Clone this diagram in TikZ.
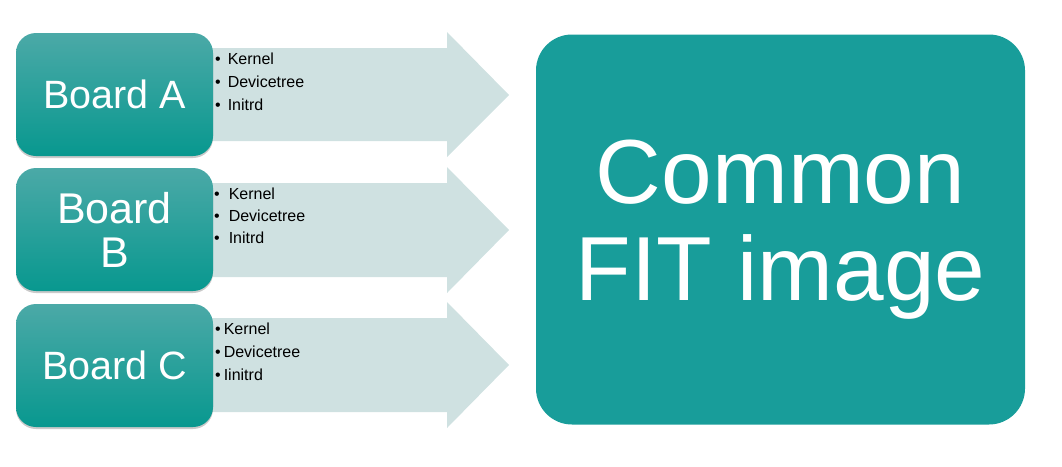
\documentclass[tikz,border=0pt]{standalone}
\usepackage{fontspec}
\setmainfont{Liberation Sans}
\usetikzlibrary{shadows}
\definecolor{boxtop}{HTML}{4BA9A7}
\definecolor{boxbot}{HTML}{08988F}
\definecolor{bigbox}{HTML}{189D9A}
\definecolor{arrowfill}{HTML}{CFE1E1}
\tikzset{
  board/.style={rounded corners=20pt, top color=boxtop, bottom color=boxbot,
    minimum width=197pt, minimum height=123pt, text=white, align=center,
    font=\fontsize{39.5}{44}\selectfont, inner sep=0pt,
    drop shadow={shadow xshift=0pt, shadow yshift=-2pt, opacity=0.35, fill=black!60}},
  barrow/.style={fill=arrowfill, draw=none},
  bullet/.style={anchor=base west, font=\fontsize{16}{18}\selectfont, inner sep=0pt},
  big/.style={rounded corners=36pt, fill=bigbox, text=white, align=center,
    font=\fontsize{91}{97}\selectfont, inner sep=0pt}
}
\begin{document}
\begin{tikzpicture}[x=1pt,y=-1pt]
\useasboundingbox (0,0) rectangle (1062,466);
% arrows
\fill[arrowfill] (205,48) -- (447,48) -- (447,32) -- (509,95) -- (447,157) -- (447,141) -- (205,141) -- cycle;
\fill[arrowfill] (205,183) -- (447,183) -- (447,167) -- (509,230) -- (447,293) -- (447,277) -- (205,277) -- cycle;
\fill[arrowfill] (205,318) -- (447,318) -- (447,302) -- (509,365) -- (447,428) -- (447,412) -- (205,412) -- cycle;
% boards
\node[board] (A) at (114.5,94.5) {Board A};
\node[board, font=\fontsize{43}{44}\selectfont] (B) at (114.5,229.5) {Board\\B};
\node[board] (C) at (114.5,365.5) {Board C};
% bullets
\node[bullet] (a1) at (215,64) {\textbullet\hspace{7pt}Kernel};
\node[bullet] (a2) at (215,87) {\textbullet\hspace{7pt}Devicetree};
\node[bullet] (a3) at (215,110) {\textbullet\hspace{7pt}Initrd};
\node[bullet] (b1) at (214,199) {\textbullet\hspace{9pt}Kernel};
\node[bullet] (b2) at (214,221) {\textbullet\hspace{9pt}Devicetree};
\node[bullet] (b3) at (214,243) {\textbullet\hspace{9pt}Initrd};
\node[bullet] (c1) at (215,334) {\textbullet\hspace{3pt}Kernel};
\node[bullet] (c2) at (215,357) {\textbullet\hspace{3pt}Devicetree};
\node[bullet] (c3) at (215,380) {\textbullet\hspace{3pt}Iinitrd};
% big box
\node[big, minimum width=489pt, minimum height=390pt] (F) at (780.5,229.5) {Common\\FIT image};
\end{tikzpicture}
\end{document}
